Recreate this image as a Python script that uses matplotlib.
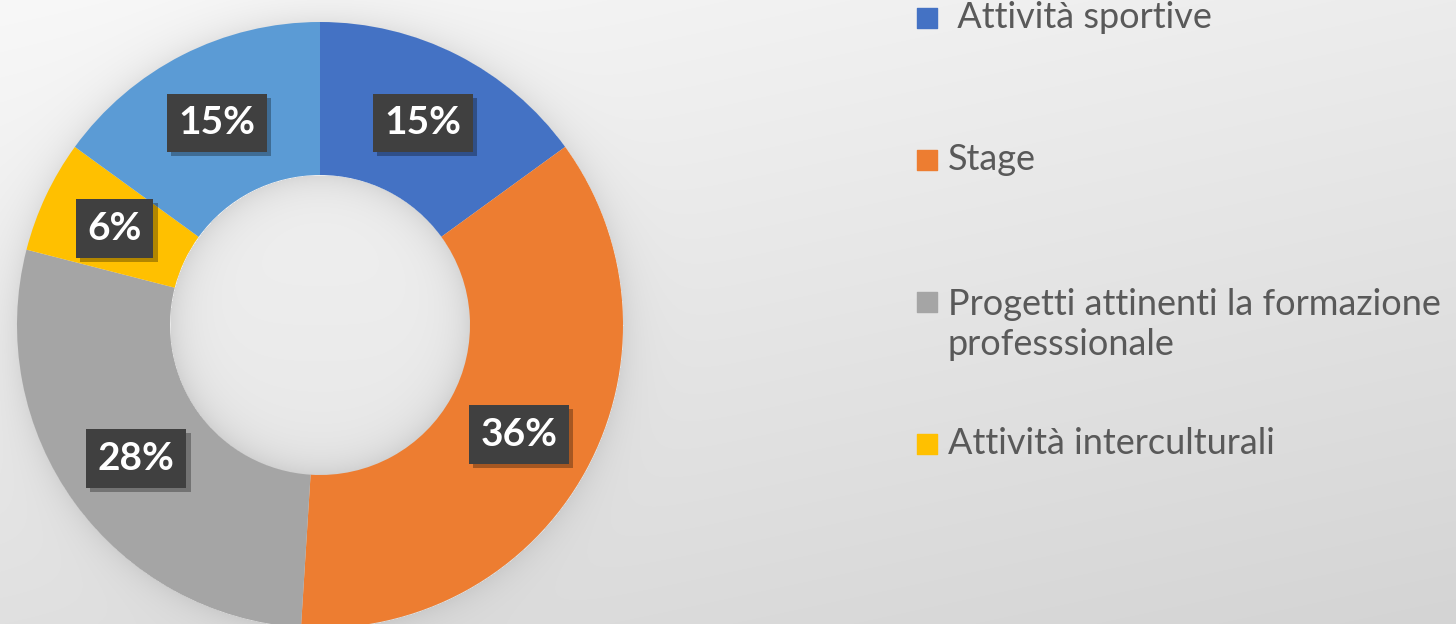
import numpy as np
import matplotlib
matplotlib.use("Agg")
import matplotlib.pyplot as plt
from matplotlib import patheffects as pe

# dati del grafico
categorie = [" Attività sportive", "Stage",
             "Progetti attinenti la formazione\nprofesssionale",
             "Attività interculturali", "Altro"]
valori = [15, 36, 28, 6, 15]
etichette = ["15%", "36%", "28%", "6%", "15%"]
colori = ["#4472C4", "#ED7D31", "#A5A5A5", "#FFC000", "#5B9BD5"]
n_legenda = 4  # la quinta voce è fuori dall'immagine

W, H = 1456, 624
cx, cy = 320, 325          # centro ciambella (pixel, y dall'alto)
r_est, r_int = 303, 150
r_lab = 227

fig = plt.figure(figsize=(W / 100, H / 100), dpi=100)
ax = fig.add_axes([0, 0, 1, 1])

# sfondo sfumato con ombra attorno alla ciambella
yy, xx = np.mgrid[0:H, 0:W]
bg = 248 - 24 * (yy / H) - 12 * (xx / W)
d = np.hypot(xx - cx, yy - cy)
fuori = d > r_est
bg[fuori] -= 18 * np.exp(-(d[fuori] - r_est) / 16)
dentro = d < r_int
bg[dentro] = 236 - 4 * (yy[dentro] - cy) / r_int - 24 * np.exp(-(r_int - d[dentro]) / 18)
bg = np.clip(bg, 0, 255) / 255
ax.imshow(np.dstack([bg, bg, bg]), extent=(0, W, 0, H), origin="upper", zorder=0)

wedges, _ = ax.pie(valori, colors=colori, startangle=90, counterclock=False,
                   center=(cx, H - cy), radius=r_est, frame=True,
                   wedgeprops=dict(width=r_est - r_int, linewidth=0))
for w in wedges:
    w.set_zorder(2)

# etichette percentuali
cum = np.cumsum([0] + valori[:-1])
tot = sum(valori)
for i, lab in enumerate(etichette):
    ang = np.radians(90 - 360 * (cum[i] + valori[i] / 2) / tot)
    x = cx + r_lab * np.cos(ang)
    y = H - cy + r_lab * np.sin(ang)
    t = ax.text(x, y, lab, fontsize=28, fontweight="bold", family="Lato",
                ha="center", va="center", color="white", zorder=4,
                bbox=dict(boxstyle="square,pad=0.3", fc="#404040", ec="none"))
    t.get_bbox_patch().set_path_effects(
        [pe.withSimplePatchShadow(offset=(3, -3), shadow_rgbFace="black", alpha=0.3)])

# legenda a destra
for i in range(n_legenda):
    my = 18 + 142 * i
    righe = categorie[i].count("\n")
    ax.scatter([927], [H - my], marker="s", s=190, color=colori[i], zorder=3)
    ax.text(948, H - my - 10 - 43 * righe, categorie[i], fontsize=26, family="Lato",
            color="#595959", ha="left", va="baseline", linespacing=1.25, zorder=3)

ax.set_xlim(0, W)
ax.set_ylim(0, H)
ax.set_aspect("auto")
ax.axis("off")

fig.savefig("out.png", dpi=100)
